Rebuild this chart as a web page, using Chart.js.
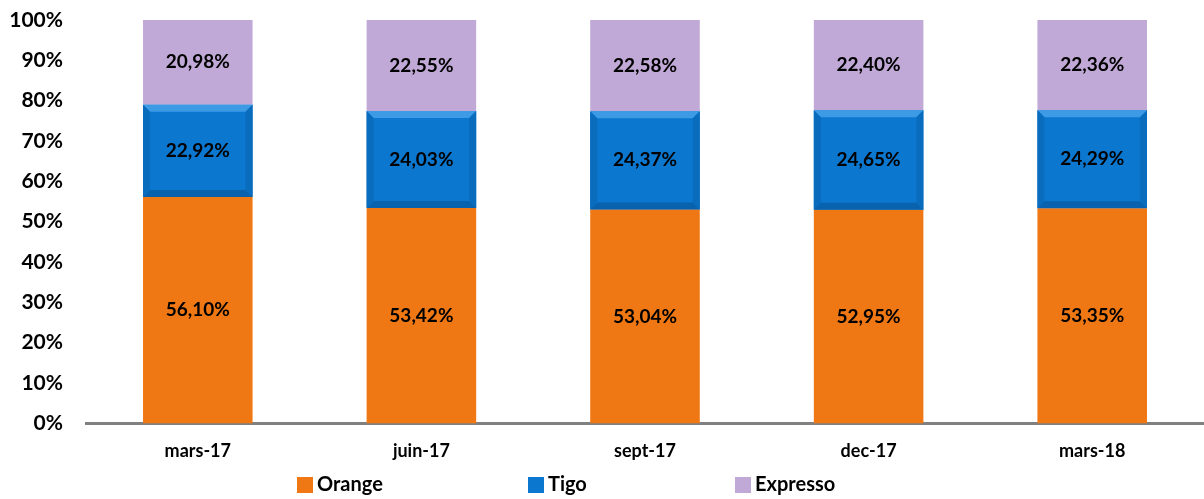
<!DOCTYPE html>
<html>
<head>
<meta charset="utf-8">
<script src="https://cdn.jsdelivr.net/npm/chart.js@4/dist/chart.umd.min.js"></script>
<style>
  html, body { margin: 0; padding: 0; background: #fff; }
  #wrap { width: 1204px; height: 499px; }
</style>
</head>
<body>
<div id="wrap"><canvas id="chart"></canvas></div>
<script>
// periods and operator shares (%)
const periods = ['mars-17', 'juin-17', 'sept-17', 'dec-17', 'mars-18'];
const orange = [56.10, 53.42, 53.04, 52.95, 53.35];
const tigo = [22.92, 24.03, 24.37, 24.65, 24.29];
const expresso = [20.98, 22.55, 22.58, 22.40, 22.36];

const FONT = "Lato, 'Open Sans', sans-serif";

// write the values in the middle of each segment, french decimal comma
const valueLabels = {
    id: 'valueLabels',
    afterDatasetsDraw(chart) {
        const ctx = chart.ctx;
        ctx.save();
        ctx.font = 'bold 19px ' + FONT;
        ctx.fillStyle = '#000';
        ctx.textAlign = 'center';
        ctx.textBaseline = 'middle';
        chart.data.datasets.forEach((ds, i) => {
            chart.getDatasetMeta(i).data.forEach((bar, j) => {
                const p = bar.getProps(['x', 'y', 'base'], true);
                const txt = ds.data[j].toFixed(2).replace('.', ',') + '%';
                ctx.fillText(txt, p.x, (p.y + p.base) / 2);
            });
        });
        ctx.restore();
    }
};

// fake the bevel on the Tigo segments
const bevel = {
    id: 'bevel',
    afterDatasetsDraw(chart) {
        const ctx = chart.ctx;
        chart.getDatasetMeta(1).data.forEach(bar => {
            const p = bar.getProps(['x', 'y', 'base', 'width'], true);
            const l = p.x - p.width / 2, r = p.x + p.width / 2;
            const t = p.y, b = p.base, d = 7;
            ctx.save();
            ctx.fillStyle = '#3d9be6';
            ctx.beginPath();
            ctx.moveTo(l, t); ctx.lineTo(r, t); ctx.lineTo(r - d, t + d); ctx.lineTo(l + d, t + d);
            ctx.fill();
            ctx.fillStyle = '#0862ad';
            ctx.beginPath();
            ctx.moveTo(l, b); ctx.lineTo(r, b); ctx.lineTo(r - d, b - d); ctx.lineTo(l + d, b - d);
            ctx.fill();
            ctx.fillStyle = '#0a6cbd';
            ctx.beginPath();
            ctx.moveTo(l, t); ctx.lineTo(l + d, t + d); ctx.lineTo(l + d, b - d); ctx.lineTo(l, b);
            ctx.moveTo(r, t); ctx.lineTo(r - d, t + d); ctx.lineTo(r - d, b - d); ctx.lineTo(r, b);
            ctx.fill();
            ctx.restore();
        });
    }
};

// legend drawn by hand so the items can sit far apart without a tall legend box
const legendX = [297, 528, 735];
const bottomLegend = {
    id: 'bottomLegend',
    afterDraw(chart) {
        const ctx = chart.ctx;
        ctx.save();
        ctx.font = 'bold 20px ' + FONT;
        ctx.textBaseline = 'middle';
        ctx.textAlign = 'left';
        chart.data.datasets.forEach((ds, i) => {
            const x = legendX[i], y = 485;
            ctx.fillStyle = ds.backgroundColor;
            ctx.fillRect(x, y - 8, 16, 16);
            ctx.fillStyle = '#000';
            ctx.fillText(ds.label, x + 20, y);
        });
        ctx.restore();
    }
};

new Chart(document.getElementById('chart'), {
    type: 'bar',
    data: {
        labels: periods,
        datasets: [
            { label: 'Orange', data: orange, backgroundColor: '#f07814' },
            { label: 'Tigo', data: tigo, backgroundColor: '#0b77cf' },
            { label: 'Expresso', data: expresso, backgroundColor: '#c0a9d6' }
        ]
    },
    options: {
        responsive: true,
        maintainAspectRatio: false,
        animation: false,
        layout: { padding: { left: 0, right: 0, top: 20, bottom: 20 } },
        datasets: { bar: { categoryPercentage: 1, barPercentage: 0.49 } },
        scales: {
            x: {
                stacked: true,
                grid: { display: false, drawTicks: false },
                border: { display: true, color: '#808080', width: 3 },
                ticks: { color: '#000', padding: 17, font: { family: FONT, size: 18, weight: 'bold' } }
            },
            y: {
                stacked: true,
                min: 0, max: 100,
                grid: { display: false, drawTicks: false },
                border: { display: false },
                afterFit(scale) { scale.width = 86; scale.paddingTop = 0; },
                ticks: {
                    stepSize: 10, autoSkip: false, color: '#000', padding: 23,
                    font: { family: FONT, size: 21, weight: 'bold' },
                    callback: v => v + '%'
                }
            }
        },
        plugins: {
            legend: { display: false },
            tooltip: { enabled: false }
        }
    },
    plugins: [bevel, valueLabels, bottomLegend]
});
</script>
</body>
</html>
